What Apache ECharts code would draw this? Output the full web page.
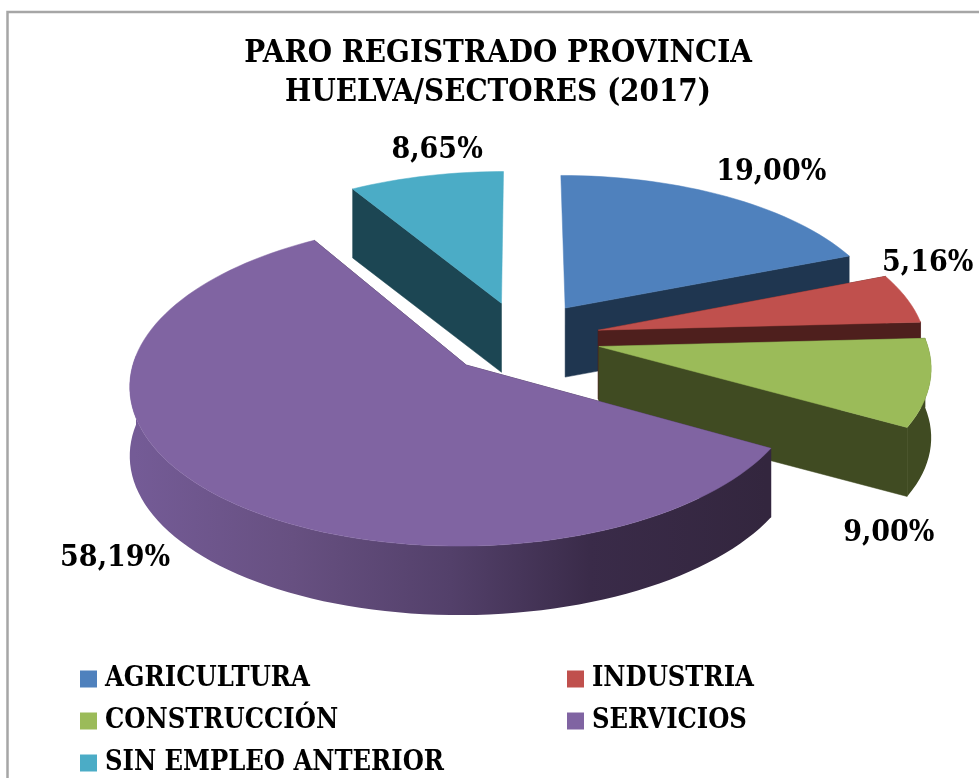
<!DOCTYPE html>
<html><head><meta charset="utf-8">
<style>html,body{margin:0;padding:0;background:#fff}#c{width:979px;height:778px}</style>
<script src="https://cdn.jsdelivr.net/npm/echarts@6/dist/echarts.min.js"></script>
</head><body><div id="c"></div>
<script>
const categories = ['AGRICULTURA','INDUSTRIA','CONSTRUCCIÓN','SERVICIOS','SIN EMPLEO ANTERIOR'];
const shares = [19.00, 5.16, 9.00, 58.19, 8.65];
const titleLines = 'PARO REGISTRADO PROVINCIA\nHUELVA/SECTORES (2017)';

const topColors  = ['#4f81bd','#c0504d','#9bbb59','#8064a2','#4bacc6'];
const wallColors = ['#1f3650','#4e1f1d','#404b22','#35273f','#1c4653'];
const paintOrder = [0,4,1,2,3];                 // back-to-front
const labelOffset = [[45,-24],[21,-35],[-41,150],[-93,68],[11,-26]]; // label offset from the slice's rim mid-point
const serif = '"DejaVu Serif Condensed","DejaVu Serif",serif';

// projection of the tilted disc
const CX = 522, CY = 338, R = 327, RY = 154, PERSP = 0.113, DEPTH = 69, EXPLODE = 0.24, STEP = 2;
function project(u, v){ const s = 1/(1+PERSP*v); return [CX+R*u*s, CY-RY*v*s]; }
function down(p){ return [p[0], p[1]+DEPTH]; }

const total = shares.reduce((a,b)=>a+b,0);
const angles = []; let run = 0;
shares.forEach(v=>{ const a0 = run/total*360; run += v; angles.push([a0, run/total*360]); });

function renderSlice(i){
  return function(params, api){
    const a0 = angles[i][0], a1 = angles[i][1];
    const mid = (a0+a1)/2*Math.PI/180;
    const ox = EXPLODE*Math.sin(mid), oy = EXPLODE*Math.cos(mid);
    const rim = a => { const r=a*Math.PI/180; return project(ox+Math.sin(r), oy+Math.cos(r)); };
    const apex = project(ox, oy);
    const arc = [];
    for (let a=a0; a<a1; a+=STEP) arc.push(rim(a));
    arc.push(rim(a1));
    const children = [];
    // cut faces (near edge-on ones are skipped)
    [arc[0],arc[arc.length-1]].forEach(p=>{
      if (Math.abs(p[0]-apex[0])>20) children.push({type:'polygon',shape:{points:[apex,p,down(p),down(apex)]},style:{fill:wallColors[i],stroke:wallColors[i],lineWidth:0.5}});
    });
    // outer wall (front-facing part only)
    const front = [];
    for (let a=a0; a<=a1; a+=STEP) if (Math.cos(a*Math.PI/180) < 0.08) front.push(rim(a));
    if (Math.cos(a1*Math.PI/180) < 0.08) front.push(rim(a1));
    if (front.length>1){
      const fill = i===3 ? {type:'linear',x:135,y:0,x2:767,y2:0,global:true,colorStops:[
        {offset:0,color:'#745b96'},{offset:0.25,color:'#675081'},{offset:0.5,color:'#53406a'},
        {offset:0.72,color:'#3a2b49'},{offset:1,color:'#33263e'}]} : wallColors[i];
      children.push({type:'polygon',shape:{points:front.concat(front.map(down).reverse())},style:{fill:fill}});
    }
    // top face
    children.push({type:'polygon',shape:{points:[apex].concat(arc)},style:{fill:topColors[i],stroke:topColors[i],lineWidth:0.5}});
    // value label
    const m = rim((a0+a1)/2);
    children.push({type:'text',z2:100,style:{
      text: shares[i].toFixed(2).replace('.',',')+'%',
      x:m[0]+labelOffset[i][0], y:m[1]+labelOffset[i][1],
      font:'bold 30px '+serif, fill:'#000', align:'center', verticalAlign:'middle'}});
    return {type:'group',children};
  };
}

const legendBase = {orient:'vertical',icon:'rect',itemWidth:17,itemHeight:17,itemGap:14,padding:0,height:130,selectedMode:false,
  textStyle:{fontFamily:serif,fontWeight:'bold',fontSize:27,color:'#000',padding:[0,0,0,3],lineHeight:28}};

const chart = echarts.init(document.getElementById('c'),null,{renderer:'canvas'});
chart.setOption({
  animation:false,
  backgroundColor:'#fff',
  title:{text:titleLines,left:498,top:34,padding:0,textAlign:'center',
    textStyle:{fontFamily:serif,fontWeight:'bold',fontSize:31,lineHeight:39,color:'#000'}},
  legend:[
    Object.assign({},legendBase,{left:80,top:665,data:[categories[0],categories[2],categories[4]]}),
    Object.assign({},legendBase,{left:567,top:665,data:[categories[1],categories[3]]})
  ],
  graphic:[{type:'rect',silent:true,shape:{x:7.5,y:12,width:1000,height:800},style:{fill:'none',stroke:'#a6a6a6',lineWidth:2.5},z:-10}],
  series:categories.map((name,i)=>({
    type:'custom',name,coordinateSystem:'none',silent:true,
    z:2+paintOrder.indexOf(i),
    itemStyle:{color:topColors[i]},
    renderItem:renderSlice(i),
    data:[[shares[i]]]
  }))
});
</script></body></html>
